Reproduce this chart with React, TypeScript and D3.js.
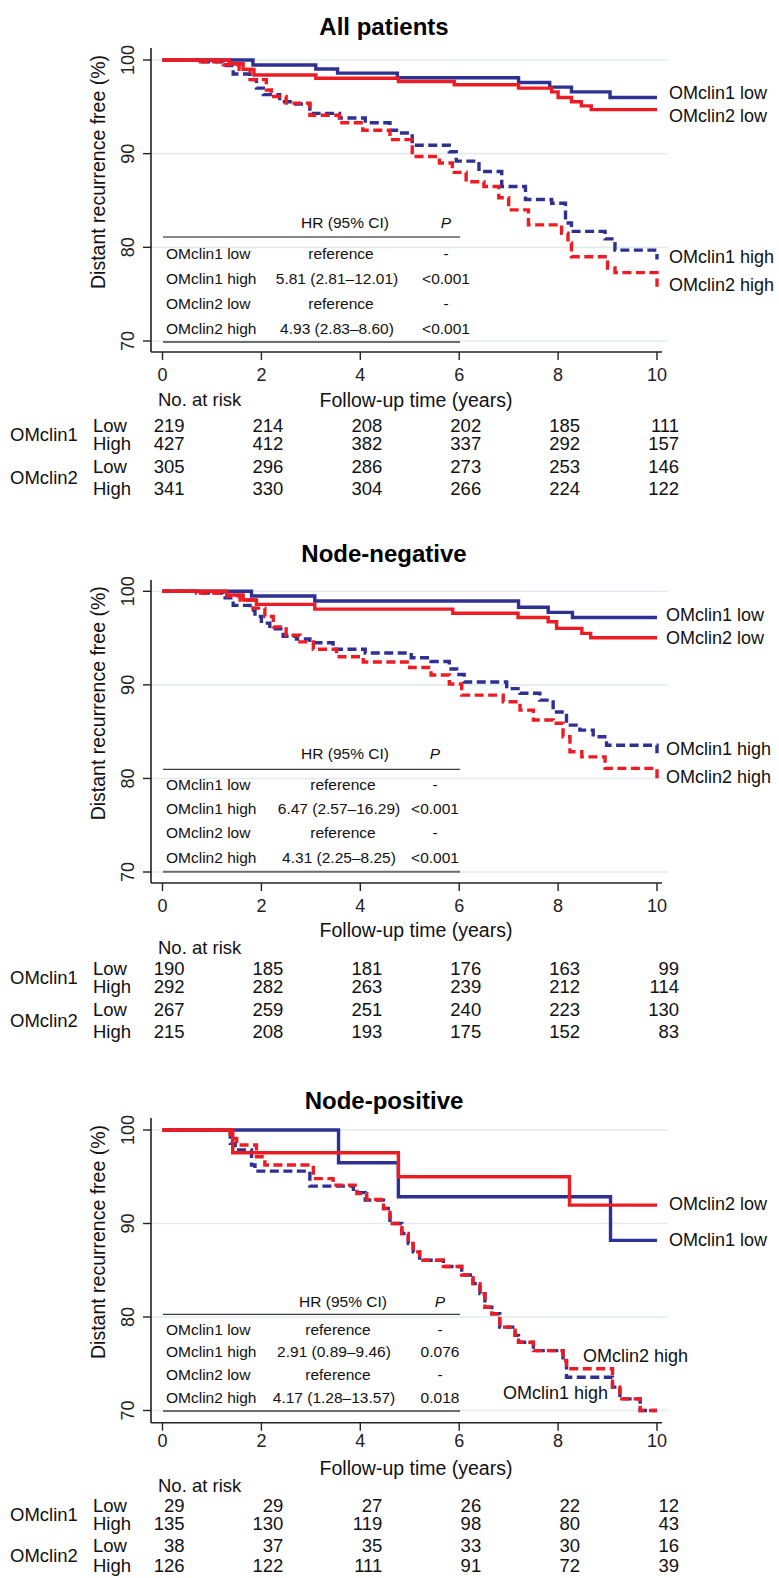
import React from "react";
import * as d3 from "d3";

type Pt = [number, number];

// shared
const years = [0, 2, 4, 6, 8, 10];
const yTicks = [70, 80, 90, 100];
const groupNames = ["OMclin1", "OMclin2"];
const riskLevels = ["Low", "High", "Low", "High"];
const hrRowLabels = ["OMclin1 low", "OMclin1 high", "OMclin2 low", "OMclin2 high"];
const legendNames = ["OMclin1 low", "OMclin2 low", "OMclin1 high", "OMclin2 high"];

// All patients
const allOm1Low: Pt[] = [[0, 100], [1.83, 99.47], [3.1, 99.04], [3.54, 98.6], [4.75, 98.1], [7.2, 97.6], [7.83, 97.1], [8.27, 96.6], [9.05, 96.0], [10, 96.0]];
const allOm2Low: Pt[] = [[0, 100], [1.35, 99.6], [1.63, 99.0], [1.85, 98.4], [3.1, 98.05], [4.77, 97.7], [5.9, 97.35], [7.2, 97.0], [7.87, 96.6], [8.0, 96.0], [8.27, 95.55], [8.47, 95.1], [8.67, 94.7], [10, 94.7]];
const allOm1High: Pt[] = [[0, 100], [0.7, 99.8], [1.23, 99.4], [1.43, 98.5], [1.77, 97.9], [1.9, 97.0], [2.04, 96.3], [2.37, 95.55], [2.64, 95.3], [2.98, 94.3], [3.58, 93.8], [4.1, 93.3], [4.6, 92.5], [4.8, 92.2], [5.05, 90.9], [5.8, 90.2], [5.94, 89.2], [6.4, 88.1], [6.86, 86.5], [7.34, 85.1], [7.87, 84.7], [8.15, 82.6], [8.27, 81.7], [8.95, 80.9], [9.15, 79.7], [10, 79.2], [10, 78.7]];
const allOm2High: Pt[] = [[0, 100], [0.7, 99.8], [1.23, 99.5], [1.55, 99.0], [1.77, 97.9], [2.1, 96.8], [2.2, 96.1], [2.5, 95.4], [2.98, 94.1], [3.58, 93.3], [4.05, 92.5], [4.6, 91.5], [5.05, 89.7], [5.6, 89.0], [5.86, 88.0], [6.14, 87.0], [6.5, 86.5], [6.8, 85.3], [7.0, 84.0], [7.4, 82.4], [8.07, 81.5], [8.2, 80.5], [8.27, 79.0], [9.0, 77.8], [9.15, 77.3], [10, 76.5], [10, 75.8]];
const allRisk = [[219, 214, 208, 202, 185, 111], [427, 412, 382, 337, 292, 157], [305, 296, 286, 273, 253, 146], [341, 330, 304, 266, 224, 122]];
const allHR = ["reference", "5.81 (2.81–12.01)", "reference", "4.93 (2.83–8.60)"];
const allP = ["-", "<0.001", "-", "<0.001"];

// Node-negative
const negOm1Low: Pt[] = [[0, 100], [1.8, 99.5], [3.08, 98.96], [7.2, 98.3], [7.8, 97.75], [8.29, 97.2], [10, 97.2]];
const negOm2Low: Pt[] = [[0, 100], [1.3, 99.6], [1.63, 99.07], [1.9, 98.6], [3.08, 98.1], [5.87, 97.65], [7.19, 97.2], [7.8, 96.75], [7.97, 96.04], [8.48, 95.5], [8.66, 95.04], [10, 95.04]];
const negOm1High: Pt[] = [[0, 100], [0.69, 99.8], [1.22, 99.3], [1.43, 98.5], [1.77, 98.0], [1.87, 97.3], [2.0, 96.6], [2.17, 96.0], [2.44, 95.2], [2.71, 94.9], [2.98, 94.5], [3.45, 93.8], [4.1, 93.4], [5.03, 92.9], [5.43, 92.5], [5.8, 91.7], [5.95, 91.1], [6.1, 90.3], [6.96, 89.6], [7.23, 89.1], [7.63, 88.37], [7.9, 87.1], [8.17, 85.7], [8.44, 85.16], [8.71, 84.45], [8.98, 83.55], [10, 83.55], [10, 82.7]];
const negOm2High: Pt[] = [[0, 100], [0.69, 99.8], [1.3, 99.5], [1.57, 99.07], [1.83, 98.2], [2.07, 97.3], [2.24, 96.2], [2.5, 95.3], [2.78, 94.6], [3.05, 93.8], [3.52, 93.0], [4.06, 92.45], [5.0, 91.85], [5.43, 91.05], [5.8, 90.1], [6.05, 88.9], [6.89, 88.2], [7.23, 87.3], [7.5, 86.24], [7.9, 85.9], [8.1, 84.45], [8.24, 82.85], [8.48, 82.3], [8.95, 81.07], [10, 81.07], [10, 80.0]];
const negRisk = [[190, 185, 181, 176, 163, 99], [292, 282, 263, 239, 212, 114], [267, 259, 251, 240, 223, 130], [215, 208, 193, 175, 152, 83]];
const negHR = ["reference", "6.47 (2.57–16.29)", "reference", "4.31 (2.25–8.25)"];
const negP = ["-", "<0.001", "-", "<0.001"];

// Node-positive
const posOm1Low: Pt[] = [[0, 100], [3.56, 96.5], [4.77, 92.86], [9.06, 88.2], [10, 88.2]];
const posOm2Low: Pt[] = [[0, 100], [1.42, 97.57], [4.77, 95.0], [8.23, 91.96], [10, 91.96]];
const posOm1High: Pt[] = [[0, 100], [1.37, 98.57], [1.47, 97.86], [1.8, 96.25], [1.87, 95.6], [2.98, 94.0], [3.86, 93.3], [4.1, 92.5], [4.47, 91.6], [4.6, 90.0], [4.84, 88.93], [4.97, 87.86], [5.07, 86.96], [5.2, 86.07], [5.68, 85.4], [6.05, 84.5], [6.28, 83.57], [6.42, 82.5], [6.52, 81.06], [6.66, 80.35], [6.82, 78.92], [7.13, 78.03], [7.2, 77.3], [7.5, 76.4], [8.1, 75.35], [8.17, 73.56], [9.1, 72.5], [9.25, 71.24], [9.66, 70.0], [10, 70.0]];
const posOm2High: Pt[] = [[0, 100], [1.37, 99.1], [1.5, 98.4], [1.9, 97.14], [2.07, 96.25], [3.05, 94.8], [3.45, 94.1], [3.93, 93.2], [4.13, 92.57], [4.47, 91.6], [4.6, 90.0], [4.84, 88.93], [4.97, 87.86], [5.07, 86.96], [5.2, 86.07], [5.68, 85.4], [6.05, 84.5], [6.28, 83.57], [6.42, 82.5], [6.52, 81.06], [6.66, 80.35], [6.82, 78.92], [7.13, 78.03], [7.2, 77.3], [7.5, 76.4], [8.1, 75.35], [8.17, 74.46], [9.1, 72.5], [9.25, 71.24], [9.66, 70.0], [10, 70.0]];
const posRisk = [[29, 29, 27, 26, 22, 12], [135, 130, 119, 98, 80, 43], [38, 37, 35, 33, 30, 16], [126, 122, 111, 91, 72, 39]];
const posHR = ["reference", "2.91 (0.89–9.46)", "reference", "4.17 (1.28–13.57)"];
const posP = ["-", "0.076", "-", "0.018"];

const BLUE = "#2e3192";
const RED = "#ed1c24";
const FONT = "'Liberation Sans', Arial, Helvetica, sans-serif";

const X0 = 162.5, X1 = 657, AXIS_X = 151, GRID_END = 668;

const panels = [
  {
    title: "All patients", curves: [allOm1Low, allOm1High, allOm2Low, allOm2High], risk: allRisk, hr: allHR, p: allP,
    titleY: 27, y100: 60, y70: 341, axisTop: 48, axisBottom: 352, tickLabelY: 375,
    followY: 400, noRiskY: 400, riskRows: [426, 444, 467, 489],
    hrHeadY: 223, hrLineY: 237, hrRows: [254, 279, 304, 329], hrBottomY: 342, hrX: 337, hrHeadX: 345, pX: 446,
    legend: [[669, 96.48], [669, 94.02], [669, 78.97], [669, 75.98]],
  },
  {
    title: "Node-negative", curves: [negOm1Low, negOm1High, negOm2Low, negOm2High], risk: negRisk, hr: negHR, p: negP,
    titleY: 554, y100: 591.3, y70: 872, axisTop: 580, axisBottom: 883, tickLabelY: 906,
    followY: 930, noRiskY: 948, riskRows: [969, 987, 1010, 1032],
    hrHeadY: 753.3, hrLineY: 769.3, hrRows: [784.5, 808.5, 833, 858], hrBottomY: 871.7, hrX: 339, hrHeadX: 345, pX: 435,
    legend: [[666, 97.47], [666, 95.04], [666, 83.15], [666, 80.19]],
  },
  {
    title: "Node-positive", curves: [posOm1Low, posOm1High, posOm2Low, posOm2High], risk: posRisk, hr: posHR, p: posP,
    titleY: 1100.7, y100: 1130, y70: 1410.5, axisTop: 1118, axisBottom: 1422.7, tickLabelY: 1441,
    followY: 1468.5, noRiskY: 1486, riskRows: [1506, 1524, 1546, 1566],
    hrHeadY: 1301.7, hrLineY: 1314.3, hrRows: [1329.3, 1351.7, 1375, 1397.7], hrBottomY: 1411, hrX: 334, hrHeadX: 343, pX: 440,
    legend: [[669, 88.31], [669, 92.16], [503, 71.87], [583, 75.83]],
  },
];

const styles = [
  { color: BLUE, dash: null, offset: 0 },
  { color: BLUE, dash: "9 4.5", offset: 0 },
  { color: RED, dash: null, offset: 0 },
  { color: RED, dash: "9 4.5", offset: 2.5 },
];

function Panel({ cfg }: { cfg: any }) {
  const x = d3.scaleLinear().domain([0, 10]).range([X0, X1]);
  const y = d3.scaleLinear().domain([70, 100]).range([cfg.y70, cfg.y100]);
  const line = d3.line<Pt>().x((d) => x(d[0])).y((d) => y(d[1])).curve(d3.curveStepAfter);
  const colRight = (i: number) => x(years[i]) + 22;

  return (
    <g>
      <text x={384} y={cfg.titleY} dy="0.35em" textAnchor="middle" fontSize={24} fontWeight="bold" fill="#000">{cfg.title}</text>

      {/* gridlines */}
      {yTicks.map((t) => (
        <line key={t} x1={AXIS_X} x2={GRID_END} y1={y(t)} y2={y(t)} stroke="#e4ebee" strokeWidth={1.6} />
      ))}

      {/* HR table */}
      <g fontSize={15.5} fill="#111">
        <text x={cfg.hrHeadX} y={cfg.hrHeadY} dy="0.35em" textAnchor="middle">HR (95% CI)</text>
        <text x={cfg.pX} y={cfg.hrHeadY} dy="0.35em" textAnchor="middle" fontStyle="italic">P</text>
        <line x1={163} x2={460} y1={cfg.hrLineY} y2={cfg.hrLineY} stroke="#111" strokeWidth={1} />
        {hrRowLabels.map((lab, i) => (
          <g key={lab}>
            <text x={166} y={cfg.hrRows[i]} dy="0.35em">{lab}</text>
            <text x={cfg.hr[i] === "reference" ? cfg.hrX + 4 : cfg.hrX} y={cfg.hrRows[i]} dy="0.35em" textAnchor="middle">{cfg.hr[i]}</text>
            <text x={cfg.pX} y={cfg.hrRows[i]} dy="0.35em" textAnchor="middle">{cfg.p[i]}</text>
          </g>
        ))}
        <line x1={163} x2={460} y1={cfg.hrBottomY} y2={cfg.hrBottomY} stroke="#6d6d6d" strokeWidth={2} />
      </g>

      {/* curves */}
      {cfg.curves.map((c: Pt[], i: number) => (
        <path key={i} d={line(c) || ""} fill="none" stroke={styles[i].color} strokeWidth={3.4}
          strokeDasharray={styles[i].dash || undefined} strokeDashoffset={styles[i].offset} />
      ))}

      {/* axes */}
      <line x1={AXIS_X} x2={AXIS_X} y1={cfg.axisTop} y2={cfg.axisBottom} stroke="#222" strokeWidth={1.6} />
      <line x1={AXIS_X} x2={662} y1={cfg.axisBottom} y2={cfg.axisBottom} stroke="#222" strokeWidth={1.6} />
      {yTicks.map((t) => (
        <g key={t}>
          <line x1={AXIS_X - 8} x2={AXIS_X} y1={y(t)} y2={y(t)} stroke="#222" strokeWidth={1.4} />
          <text transform={`translate(128,${y(t)}) rotate(-90)`} dy="0.35em" textAnchor="middle" fontSize={18} fill="#222">{t}</text>
        </g>
      ))}
      {years.map((t) => (
        <g key={t}>
          <line x1={x(t)} x2={x(t)} y1={cfg.axisBottom} y2={cfg.axisBottom + 8} stroke="#222" strokeWidth={1.4} />
          <text x={x(t)} y={cfg.tickLabelY} dy="0.35em" textAnchor="middle" fontSize={18} fill="#222">{t}</text>
        </g>
      ))}
      <text transform={`translate(98,${cfg.y100 + 112}) rotate(-90)`} dy="0.35em" textAnchor="middle" fontSize={19.5} fill="#111">Distant recurrence free (%)</text>
      <text x={416} y={cfg.followY} dy="0.35em" textAnchor="middle" fontSize={19.5} fill="#111">Follow-up time (years)</text>

      {/* legend labels */}
      {legendNames.map((n, i) => (
        <text key={n} x={cfg.legend[i][0]} y={y(cfg.legend[i][1])} dy="0.35em" fontSize={18} fill="#111">{n}</text>
      ))}

      {/* number at risk */}
      <g fontSize={18.5} fill="#111">
        <text x={158} y={cfg.noRiskY} dy="0.35em">No. at risk</text>
        {groupNames.map((g, gi) => (
          <text key={g} x={10} y={(cfg.riskRows[gi * 2] + cfg.riskRows[gi * 2 + 1]) / 2} dy="0.35em">{g}</text>
        ))}
        {cfg.risk.map((row: number[], ri: number) => (
          <g key={ri}>
            <text x={93} y={cfg.riskRows[ri]} dy="0.35em">{riskLevels[ri]}</text>
            {row.map((v, ci) => (
              <text key={ci} x={colRight(ci)} y={cfg.riskRows[ri]} dy="0.35em" textAnchor="end">{v}</text>
            ))}
          </g>
        ))}
      </g>
    </g>
  );
}

export default function App() {
  return (
    <svg width={779} height={1578} viewBox="0 0 779 1578"
      style={{ position: "absolute", left: 0, top: 0, background: "#fff", fontFamily: FONT }}>
      <rect width={779} height={1578} fill="#fff" />
      {panels.map((p) => (
        <Panel key={p.title} cfg={p} />
      ))}
    </svg>
  );
}
